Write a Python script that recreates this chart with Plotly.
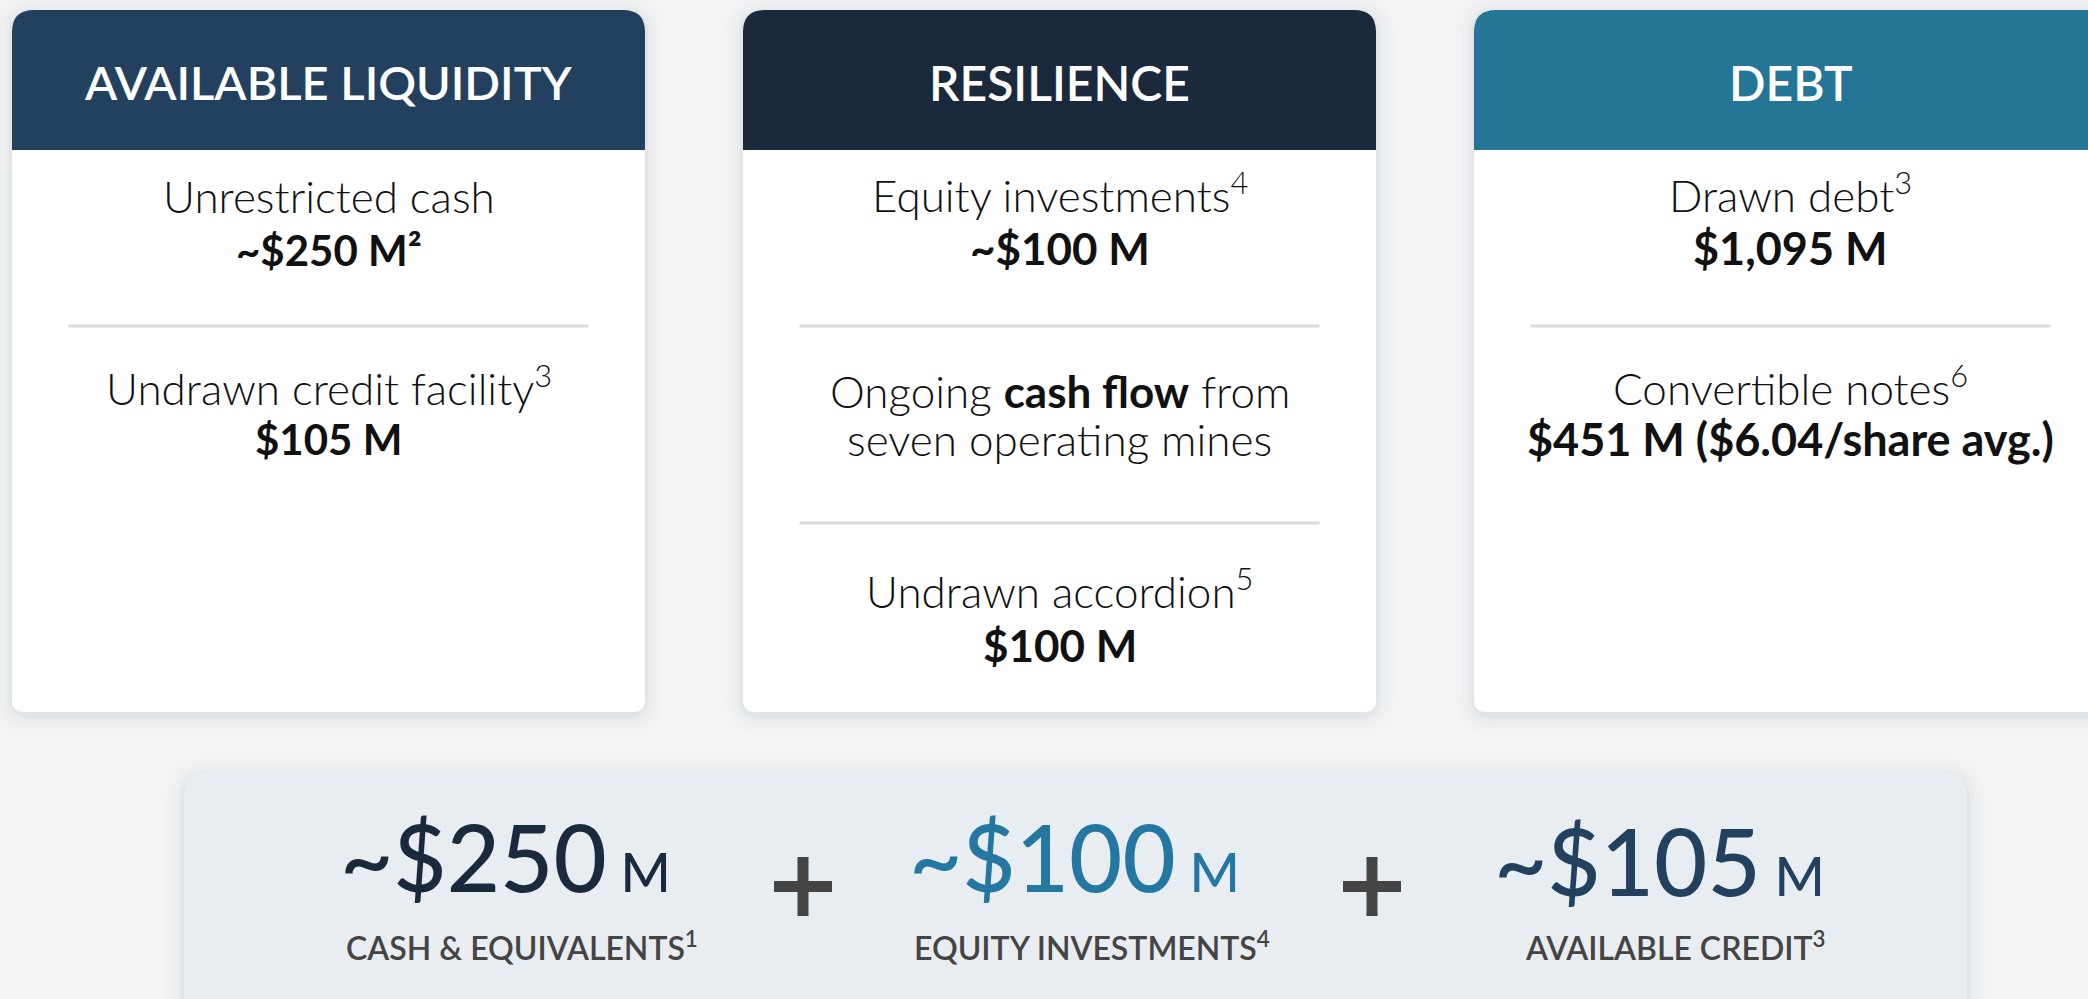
import plotly.graph_objects as go

# ---------------- data ----------------
headers = ["AVAILABLE LIQUIDITY", "RESILIENCE", "DEBT"]
header_colors = ["#23415f", "#1b293d", "#247596"]

liquidity_labels = ["Unrestricted cash", "Undrawn credit facility<sup>3</sup>"]
liquidity_values = ["~$250 M²", "$105 M"]

resilience_labels = ["Equity investments<sup>4</sup>", "Ongoing <b>cash flow</b> from", "Undrawn accordion<sup>5</sup>"]
resilience_values = ["<b>~$100 M</b>", "seven operating mines", "<b>$100 M</b>"]

debt_labels = ["Drawn debt<sup>3</sup>", "Convertible notes<sup>6</sup>"]
debt_values = ["$1,095 M", "$451 M ($6.04/share avg.)"]

summary_amounts = ["~$250", "~$100", "~$105"]
summary_unit = "M"
summary_colors = ["#1b293d", "#2477a0", "#23415f"]
summary_labels = ["CASH &amp; EQUIVALENTS<sup>1</sup>", "EQUITY INVESTMENTS<sup>4</sup>", "AVAILABLE CREDIT<sup>3</sup>"]

# ---------------- layout helpers ----------------
W, H = 2088, 999
FONT = "Lato, 'Open Sans', sans-serif"


def rrect(x0, y0, x1, y1, tl, tr, br, bl):
    return (f"M {x0+tl},{y0} L {x1-tr},{y0} Q {x1},{y0} {x1},{y0+tr} "
            f"L {x1},{y1-br} Q {x1},{y1} {x1-br},{y1} L {x0+bl},{y1} "
            f"Q {x0},{y1} {x0},{y1-bl} L {x0},{y0+tl} Q {x0},{y0} {x0+tl},{y0} Z")


fig = go.Figure()
shapes = []
annotations = []


def add_shadow(x0, y0, x1, y1, r):
    for k, a in [(18, 0.012), (12, 0.015), (7, 0.02), (3, 0.03)]:
        shapes.append(dict(type="path", path=rrect(x0 - k, y0 - k + 4, x1 + k, y1 + k + 4, r + k, r + k, r + k, r + k),
                           fillcolor=f"rgba(40,50,70,{a})", line=dict(width=0), layer="below"))


def text(x, y, t, size, color="#111111", weight=300, anchor="middle"):
    annotations.append(dict(x=x, y=y, xref="x", yref="y", text=t, showarrow=False,
                            xanchor="center", yanchor=anchor,
                            font=dict(family=FONT, size=size, color=color, weight=weight)))


card_x0 = [12, 743, 1474]
card_w = 633
top, head_bottom, bottom = 10, 150, 712

for i in range(3):
    x0 = card_x0[i]
    x1 = x0 + card_w
    add_shadow(x0, top, x1, bottom, 20)
    shapes.append(dict(type="path", path=rrect(x0, top, x1, bottom, 22, 22, 12, 12),
                       fillcolor="#ffffff", line=dict(width=0)))
    shapes.append(dict(type="path", path=rrect(x0, top, x1, head_bottom, 22, 22, 0, 0),
                       fillcolor=header_colors[i], line=dict(width=0)))
    text((x0 + x1) / 2, 82, headers[i], 48 if i else 47, color="#ffffff", weight=600)

cx = [x0 + card_w / 2 for x0 in card_x0]


def divider(c, y):
    shapes.append(dict(type="line", x0=c - 260, x1=c + 260, y0=y, y1=y,
                       line=dict(color="#dadbdd", width=3)))


BODY = 44

# card 1
text(cx[0], 196, liquidity_labels[0], BODY)
text(cx[0], 250, liquidity_values[0], 42, weight=700)
divider(cx[0], 326)
text(cx[0], 385, liquidity_labels[1], BODY)
text(cx[0], 439, liquidity_values[1], 42, weight=700)

# card 2
text(cx[1], 192, resilience_labels[0], BODY)
text(cx[1], 248, resilience_values[0], 44)
divider(cx[1], 326)
text(cx[1], 391, resilience_labels[1], BODY)
text(cx[1], 439, resilience_values[1], BODY)
divider(cx[1], 523)
text(cx[1], 588, resilience_labels[2], BODY)
text(cx[1], 645, resilience_values[2], 44)

# card 3
text(cx[2], 192, debt_labels[0], BODY)
text(cx[2], 248, debt_values[0], 45, weight=700)
divider(cx[2], 326)
text(cx[2], 385, debt_labels[1], BODY)
text(cx[2], 439, debt_values[1], 45, weight=700)

# summary box
add_shadow(184, 772, 1967, 1040, 26)
shapes.append(dict(type="path", path=rrect(184, 772, 1967, 1040, 26, 26, 26, 26),
                   fillcolor="#e8edf1", line=dict(width=0)))

sum_cx = [505, 1074, 1659]
sum_base = [914, 914, 918]
lab_cx = [522, 1092, 1675]
for i in range(3):
    t = f"{summary_amounts[i]}<span style='font-size:54px'> {summary_unit}</span>"
    text(sum_cx[i], sum_base[i], t, 92, color=summary_colors[i], weight=500, anchor="bottom")
    text(lab_cx[i], 946, summary_labels[i], 32, color="#444444", weight=600)

# plus signs
for px in [803, 1372]:
    shapes.append(dict(type="rect", x0=px - 29, x1=px + 29, y0=881, y1=892,
                       fillcolor="#454545", line=dict(width=0)))
    shapes.append(dict(type="rect", x0=px - 5.5, x1=px + 5.5, y0=857, y1=916,
                       fillcolor="#454545", line=dict(width=0)))

fig.update_layout(
    width=W, height=H, margin=dict(l=0, r=0, t=0, b=0),
    paper_bgcolor="#f3f4f6", plot_bgcolor="#f3f4f6",
    shapes=shapes, annotations=annotations, showlegend=False,
    xaxis=dict(range=[0, W], visible=False, fixedrange=True),
    yaxis=dict(range=[H, 0], visible=False, fixedrange=True),
)

fig.write_html("out.html", config={"displayModeBar": False},
               post_script="document.body.style.margin='0';document.body.style.overflow='hidden';")
